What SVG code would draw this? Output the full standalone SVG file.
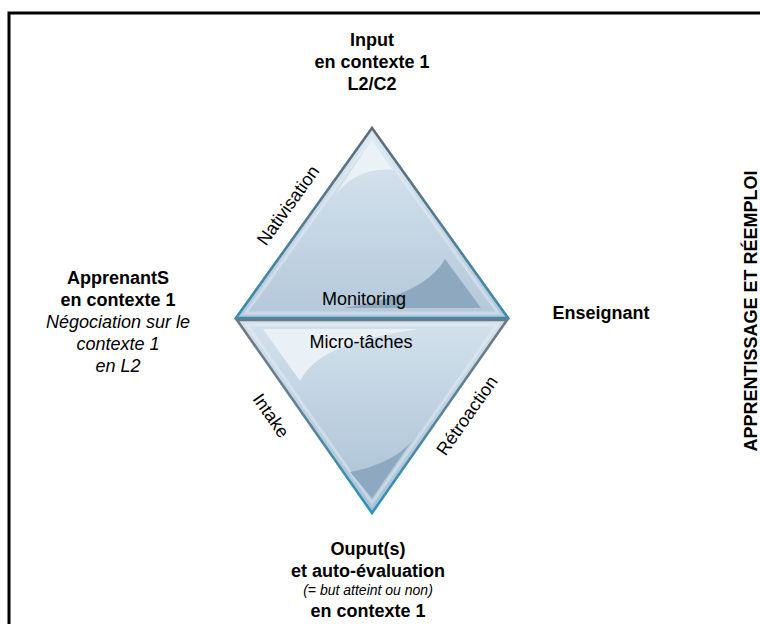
<svg xmlns="http://www.w3.org/2000/svg" width="760" height="624" viewBox="0 0 760 624">
<defs>
<linearGradient id="fillUp" x1="0" y1="128" x2="0" y2="318" gradientUnits="userSpaceOnUse">
<stop offset="0" stop-color="#dbe7f0"/><stop offset="1" stop-color="#b3c8da"/>
</linearGradient>
<linearGradient id="strokeUp" x1="0" y1="128" x2="0" y2="318" gradientUnits="userSpaceOnUse">
<stop offset="0" stop-color="#5e6c7a"/><stop offset="0.5" stop-color="#537c94"/><stop offset="1" stop-color="#3a8db0"/>
</linearGradient>
<linearGradient id="fillDown" x1="0" y1="320" x2="0" y2="513" gradientUnits="userSpaceOnUse">
<stop offset="0" stop-color="#d3e1ec"/><stop offset="1" stop-color="#a8c0d4"/>
</linearGradient>
<linearGradient id="strokeDown" x1="0" y1="320" x2="0" y2="513" gradientUnits="userSpaceOnUse">
<stop offset="0" stop-color="#6f7984"/><stop offset="0.45" stop-color="#5f8396"/><stop offset="1" stop-color="#2a96bf"/>
</linearGradient>
<style>
.b{font-family:"Liberation Sans",Arial,sans-serif;font-weight:bold;font-size:18px;fill:#000;text-anchor:middle}
.i{font-family:"Liberation Sans",Arial,sans-serif;font-style:italic;font-size:18px;fill:#000;text-anchor:middle}
.r{font-family:"Liberation Sans",Arial,sans-serif;font-size:18px;fill:#000;text-anchor:middle}
.hl{fill:#eef4f8;opacity:0.85}
.dk{fill:#8da8bf}
.bev{fill:none;stroke:#e8f0f6;stroke-width:3;opacity:0.45;stroke-linejoin:miter}
</style>
</defs>
<rect width="760" height="624" fill="#fff"/>
<path d="M9 626 V13 H762" fill="none" stroke="#000" stroke-width="3"/>

<g id="triangle-top">
<polygon points="372,128 236,318 508,318" fill="url(#fillUp)"/>
<polygon points="372,137 246,313 498,313" class="bev"/>
<path class="hl" d="M372,140 L334,197 C350,175 370,168 393,170 Z"/>
<path class="dk" d="M343,308 C390,301 430,286 445,259 L481,308 Z"/>
<polygon points="372,128 236,318 508,318" fill="none" stroke="url(#strokeUp)" stroke-width="2.6" stroke-linejoin="miter"/>
<text class="r" x="364" y="305">Monitoring</text>
</g>

<g id="triangle-bottom">
<polygon points="237,320 507,320 372,513" fill="url(#fillDown)"/>
<polygon points="247,325 497,325 372,503" class="bev"/>
<path class="hl" d="M263,329 L418,329 C360,338 316,350 300,381 Z"/>
<path class="dk" d="M350,472 C378,467 402,455 414,438 L372,498 Z"/>
<polygon points="237,320 507,320 372,513" fill="none" stroke="url(#strokeDown)" stroke-width="2.6" stroke-linejoin="miter"/>
<text class="r" x="361" y="348">Micro-tâches</text>
</g>

<g id="connectors">
<text class="r" transform="translate(293,209) rotate(-54.4)" x="0" y="0">Nativisation</text>
<text class="r" transform="translate(266,419) rotate(55)" x="0" y="0">Intake</text>
<text class="r" transform="translate(472,419) rotate(-55)" x="0" y="0">Rétroaction</text>
</g>

<g id="node-input">
<text class="b" x="372" y="46">Input</text>
<text class="b" x="372" y="68">en contexte 1</text>
<text class="b" x="372" y="90">L2/C2</text>
</g>

<g id="node-apprenants">
<text class="b" x="118" y="284">ApprenantS</text>
<text class="b" x="118" y="306">en contexte 1</text>
<text class="i" x="118" y="328">Négociation sur le</text>
<text class="i" x="118" y="350">contexte 1</text>
<text class="i" x="118" y="372">en L2</text>
</g>

<g id="node-enseignant">
<text class="b" x="601" y="319">Enseignant</text>
</g>

<g id="node-output">
<text class="b" x="368" y="555">Ouput(s)</text>
<text class="b" x="368" y="577">et auto-évaluation</text>
<text class="i" x="368" y="595" style="font-size:14px">(= but atteint ou non)</text>
<text class="b" x="368" y="617">en contexte 1</text>
</g>

<g id="node-side">
<text class="b" transform="translate(757,311) rotate(-90)" x="0" y="0">APPRENTISSAGE ET RÉEMPLOI</text>
</g>
</svg>
